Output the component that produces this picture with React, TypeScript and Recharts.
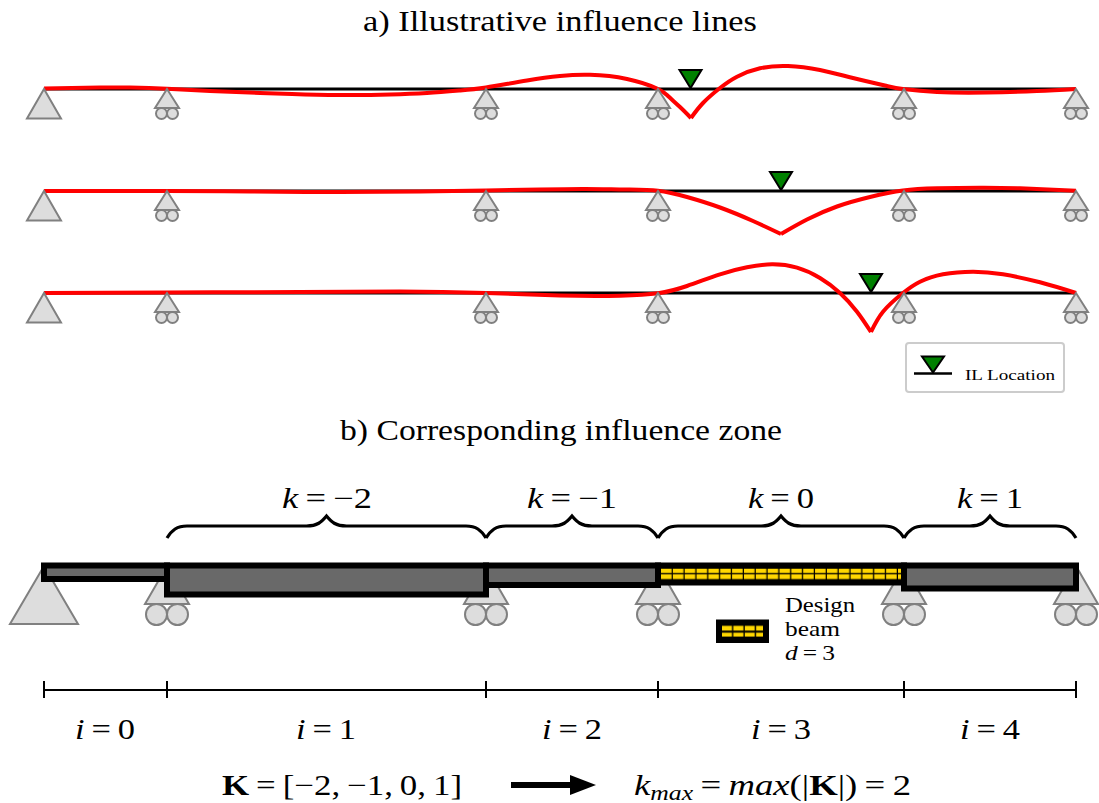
import React from "react";
import { ComposedChart, Line, Scatter, ReferenceArea, XAxis, YAxis } from "recharts";

const WIDTH = 1099;
const HEIGHT = 803;
const FONT = "'Liberation Serif', serif";

// Support stations along the beam
const supportX = [44, 167, 486, 658, 904, 1076];
const lineLevels = [89, 191, 293];
const zoneBeamY = 566;
const dimensionY = 690;

// Influence lines, as [x, y] readings, split at the cusp below the load
const il1Left = [[44, 88.5], [100, 87.5], [130, 87.6], [167, 88.8], [210, 91], [260, 93], [305, 94.4], [350, 95], [390, 94.5], [427, 93], [460, 90.5], [486, 87.5], [527, 80.5], [560, 76], [590, 74.8], [627, 79], [657, 88.5], [668, 96], [680, 107], [691, 118]];
const il1Right = [[691, 118], [703, 103], [720, 88], [737, 76.7], [760, 68.3], [788, 66], [820, 70], [853, 78], [887, 86], [903, 89], [937, 92], [987, 92.5], [1037, 91], [1076, 89]];
const il2Left = [[44, 191], [167, 191], [250, 191.5], [340, 192], [420, 191.5], [486, 190.5], [540, 189.5], [585, 189], [625, 189.5], [658, 190.7], [687, 197], [720, 207.5], [753, 221], [781, 234]];
const il2Right = [[781, 234], [807, 219.5], [837, 206.5], [870, 197], [903, 190.5], [937, 188.3], [980, 187.7], [1020, 188.3], [1076, 190.7]];
const il3Left = [[44, 293], [167, 292.5], [300, 292], [400, 291.5], [486, 293], [560, 295.5], [620, 295.7], [658, 293.3], [687, 286], [720, 274.3], [747, 267.3], [772, 264.3], [797, 267.7], [820, 278], [840, 293], [857, 311.7], [871, 332]];
const il3Right = [[871, 332], [883, 311.7], [903, 293], [920, 281.7], [943, 274.3], [973, 271.7], [1003, 274.3], [1040, 282.3], [1076, 293]];
const influenceLines = [il1Left, il1Right, il2Left, il2Right, il3Left, il3Right];

// Load position markers
const loadX = [690.5, 781, 871];

// Influence zone beam spans: bottom edge by span
const beamTop = 565.5;
const beamBottoms = [579, 594.5, 585, 582.5, 588.5];
const designSpan = 3;

// Brace spans and labels
const braceSpans = [[167, 486], [486, 658], [658, 904], [904, 1076]];
const kValues = ["−2", "−1", "0", "1"];
const kLabelLeft = [282, 527, 748, 957];
const kLabelWidth = [90, 90, 66, 66];
const iLabelLeft = [75, 296, 542, 751, 960];

type Part = [string, "r" | "i" | "b" | "s"];
type Label = { x: number; y: number; w: number; size: number; parts: Part[] };
const eq = "\u2009=\u2009";

const labels: Label[] = [
  { x: 363, y: 31, w: 394, size: 29, parts: [["a) Illustrative influence lines", "r"]] },
  { x: 340, y: 440, w: 442, size: 29, parts: [["b) Corresponding influence zone", "r"]] },
  ...kValues.map((v, n): Label => ({ x: kLabelLeft[n], y: 508, w: kLabelWidth[n], size: 29, parts: [["k", "i"], [eq + v, "r"]] })),
  ...iLabelLeft.map((x, n): Label => ({ x, y: 739, w: 60, size: 29, parts: [["i", "i"], [eq + n, "r"]] })),
  { x: 222, y: 795, w: 240, size: 29, parts: [["K", "b"], [eq + "[−2,\u2009−1,\u20090,\u20091]", "r"]] },
  { x: 634, y: 795, w: 277, size: 29, parts: [["k", "i"], ["max", "s"], [eq, "r"], ["max", "i"], ["(|", "r"], ["K", "b"], ["|)" + eq + "2", "r"]] },
  { x: 785, y: 612, w: 70, size: 22, parts: [["Design", "r"]] },
  { x: 785, y: 636, w: 55, size: 22, parts: [["beam", "r"]] },
  { x: 785, y: 660, w: 50, size: 22, parts: [["d", "i"], [eq + "3", "r"]] },
  { x: 965, y: 380, w: 90, size: 15, parts: [["IL Location", "r"]] },
];

const pt = (p: number[]) => ({ x: p[0], y: p[1] });

const gray = "#808080";
const supportFill = "#dddddd";

const Pin = ({ cx, cy, payload }: any) => {
  const { h, half } = payload;
  return <path d={`M${cx},${cy} L${cx - half},${cy + h} L${cx + half},${cy + h} Z`} fill={supportFill} stroke={gray} strokeWidth={2} />;
};

const Roller = ({ cx, cy, payload }: any) => {
  const { h, half, r } = payload;
  return (
    <g>
      <path d={`M${cx},${cy} L${cx - half},${cy + h} L${cx + half},${cy + h} Z`} fill={supportFill} stroke={gray} strokeWidth={2} />
      <circle cx={cx - r} cy={cy + h + r} r={r} fill={supportFill} stroke={gray} strokeWidth={2} />
      <circle cx={cx + r} cy={cy + h + r} r={r} fill={supportFill} stroke={gray} strokeWidth={2} />
    </g>
  );
};

const LoadMarker = ({ cx, cy, payload }: any) => (
  <path d={`M${cx},${cy} L${cx - payload.half},${cy - payload.h} L${cx + payload.half},${cy - payload.h} Z`} fill="#008000" stroke="#000" strokeWidth={2} />
);

const BeamRect = ({ cx, cy, payload }: any) => (
  <rect
    x={cx}
    y={cy}
    width={payload.x2 - payload.x}
    height={payload.y2 - payload.y}
    fill={payload.fill}
    stroke="#000"
    strokeWidth={6}
  />
);

const Brace = ({ cx, cy, payload }: any) => {
  const x1 = cx - (payload.x - payload.x1);
  const x2 = cx + (payload.x2 - payload.x);
  return (
    <path
      d={`M${x1},${cy + 12} C${x1 + 5},${cy + 4} ${x1 + 10},${cy} ${x1 + 20},${cy} L${cx - 20},${cy} C${cx - 9},${cy} ${cx - 5},${cy - 4} ${cx},${cy - 10} C${cx + 5},${cy - 4} ${cx + 9},${cy} ${cx + 20},${cy} L${x2 - 20},${cy} C${x2 - 10},${cy} ${x2 - 5},${cy + 4} ${x2},${cy + 12}`}
      fill="none"
      stroke="#000"
      strokeWidth={3.2}
    />
  );
};

const DimTick = ({ cx, cy }: any) => <line x1={cx} x2={cx} y1={cy - 9} y2={cy + 8} stroke="#000" strokeWidth={2} />;

const ArrowHead = ({ cx, cy }: any) => <path d={`M${cx},${cy - 10} L${cx + 26},${cy} L${cx},${cy + 10} Z`} fill="#000" />;

const TextMark = ({ cx, cy, payload }: any) => {
  const l: Label = payload;
  let shift = 0;
  return (
    <text x={cx} y={cy} textLength={l.w} lengthAdjust="spacingAndGlyphs" fontFamily={FONT} fontSize={l.size} fill="#000">
      {l.parts.map(([t, k], n) => {
        const target = k === "s" ? 5 : 0;
        const dy = target - shift;
        shift = target;
        return (
          <tspan
            key={n}
            dy={dy}
            fontStyle={k === "i" || k === "s" ? "italic" : "normal"}
            fontWeight={k === "b" ? "bold" : "normal"}
            fontSize={k === "s" ? l.size * 0.7 : l.size}
          >
            {t}
          </tspan>
        );
      })}
    </text>
  );
};

const pinData = [
  ...lineLevels.map((y) => ({ x: supportX[0], y, h: 29.5, half: 17 })),
  { x: supportX[0], y: zoneBeamY, h: 58, half: 34 },
];
const rollerData = [
  ...lineLevels.flatMap((y) => supportX.slice(1).map((x) => ({ x, y, h: 19, half: 12, r: 5.5 }))),
  ...supportX.slice(1).map((x) => ({ x, y: zoneBeamY, h: 38, half: 22, r: 10.5 })),
];
const loadData = loadX.map((x, n) => ({ x, y: lineLevels[n] - 1, h: 18, half: 11 }));
const legendMarker = [{ x: 933, y: 372.5, h: 16, half: 11 }];
const beamData = beamBottoms.map((bottom, n) => ({
  x: supportX[n],
  x2: supportX[n + 1],
  y: beamTop,
  y2: bottom,
  fill: n === designSpan ? "url(#hatchBeam)" : "#696969",
}));
const braceData = braceSpans.map(([a, b]) => ({ x: (a + b) / 2, y: 526, x1: a, x2: b }));
const tickData = supportX.map((x) => ({ x, y: dimensionY }));

const lineBase = { dataKey: "y", dot: false, activeDot: false, isAnimationActive: false } as const;

export default function App() {
  return (
    <div style={{ position: "absolute", left: 0, top: 0, width: WIDTH, height: HEIGHT, background: "#fff" }}>
      <ComposedChart width={WIDTH} height={HEIGHT} margin={{ top: 0, right: 0, bottom: 0, left: 0 }}>
        <defs>
          <pattern id="hatchBeam" patternUnits="userSpaceOnUse" x={661} y={568} width={11.85} height={11.5}>
            <rect x={0} y={0} width={11.85} height={11.5} fill="#000" />
            <rect x={0} y={0.5} width={10.6} height={4.4} fill="#ffd700" />
            <rect x={0} y={6.2} width={10.6} height={4.9} fill="#ffd700" />
          </pattern>
          <pattern id="hatchLegend" patternUnits="userSpaceOnUse" x={722} y={625.5} width={11.4} height={11.5}>
            <rect x={0} y={0} width={11.4} height={11.5} fill="#000" />
            <rect x={0} y={0.3} width={10} height={4.8} fill="#ffd700" />
            <rect x={0} y={7.2} width={10} height={3.9} fill="#ffd700" />
          </pattern>
        </defs>
        <XAxis type="number" dataKey="x" domain={[0, WIDTH]} hide allowDataOverflow />
        <YAxis type="number" dataKey="y" domain={[0, HEIGHT]} reversed hide allowDataOverflow />

        <Scatter data={pinData} shape={<Pin />} isAnimationActive={false} />
        <Scatter data={rollerData} shape={<Roller />} isAnimationActive={false} />

        {lineLevels.map((y) => (
          <Line key={y} {...lineBase} data={[{ x: supportX[0], y }, { x: supportX[5], y }]} stroke="#000" strokeWidth={3} type="linear" />
        ))}
        {influenceLines.map((series, n) => (
          <Line key={n} {...lineBase} data={series.map(pt)} stroke="#ff0000" strokeWidth={4} type="natural" />
        ))}
        <Scatter data={loadData} shape={<LoadMarker />} isAnimationActive={false} />

        <ReferenceArea x1={906} x2={1064} y1={343} y2={392} fill="#fff" fillOpacity={1} stroke="#cccccc" strokeWidth={2} radius={3} />
        <Line {...lineBase} data={[{ x: 914, y: 373.5 }, { x: 952, y: 373.5 }]} stroke="#000" strokeWidth={2.5} />
        <Scatter data={legendMarker} shape={<LoadMarker />} isAnimationActive={false} />

        <Scatter data={beamData} shape={<BeamRect />} isAnimationActive={false} />
        <ReferenceArea x1={719} x2={766} y1={622.5} y2={640} fill="url(#hatchLegend)" fillOpacity={1} stroke="#000" strokeOpacity={1} strokeWidth={6} />

        <Scatter data={braceData} shape={<Brace />} isAnimationActive={false} />
        <Line {...lineBase} data={[{ x: supportX[0], y: dimensionY }, { x: supportX[5], y: dimensionY }]} stroke="#000" strokeWidth={2} />
        <Scatter data={tickData} shape={<DimTick />} isAnimationActive={false} />
        <Line {...lineBase} data={[{ x: 511, y: 785 }, { x: 572, y: 785 }]} stroke="#000" strokeWidth={6} />
        <Scatter data={[{ x: 570, y: 785 }]} shape={<ArrowHead />} isAnimationActive={false} />
        <Scatter data={labels} shape={<TextMark />} isAnimationActive={false} />
      </ComposedChart>
    </div>
  );
}
